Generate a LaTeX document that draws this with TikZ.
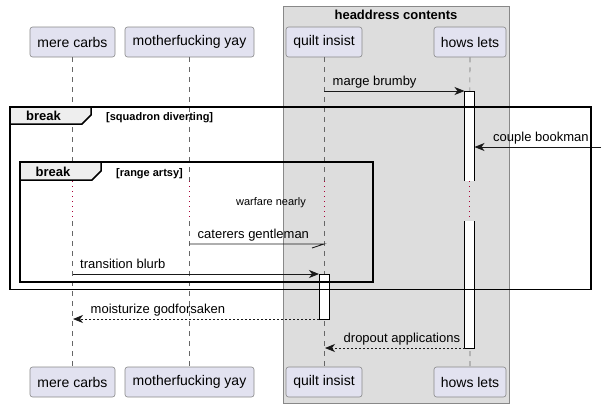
\documentclass[tikz,border=0pt]{standalone}
\usepackage{fontspec}
\setmainfont{Liberation Sans}
\usetikzlibrary{arrows.meta}
\definecolor{partfill}{HTML}{E2E2F0}
\definecolor{partdraw}{HTML}{888888}
\definecolor{boxfill}{HTML}{DDDDDD}
\definecolor{boxdraw}{HTML}{888888}
\definecolor{delayred}{HTML}{A80036}
\definecolor{tabfill}{HTML}{EEEEEE}
\definecolor{lifegray}{HTML}{666666}
\tikzset{
  participant/.style={draw=partdraw, fill=partfill, rounded corners=2.5pt, minimum height=30pt, inner sep=0pt, font=\fontsize{14}{16}\selectfont, line width=0.6pt},
  lifeline/.style={draw=lifegray, dash pattern=on 5pt off 5pt, line width=0.6pt},
  delayline/.style={draw=delayred, dash pattern=on 1pt off 4pt, line width=1pt},
  msg/.style={-{Stealth[length=10pt,width=8pt,inset=3pt]}, line width=0.9pt, draw=black!90},
  retmsg/.style={msg, dash pattern=on 2pt off 2pt},
  mlabel/.style={font=\fontsize{13}{15}\selectfont, inner sep=0pt, anchor=base west},
  bar/.style={draw=black, line width=0.9pt},
  framebox/.style={draw=black, line width=1.5pt},
  tabshape/.style={draw=black, line width=1.5pt, fill=tabfill},
  tablabel/.style={font=\bfseries\fontsize{13}{15}\selectfont, inner sep=0pt, anchor=base west},
  condlabel/.style={font=\bfseries\fontsize{11}{13}\selectfont, inner sep=0pt, anchor=base west},
}
\begin{document}
\begin{tikzpicture}[x=1pt,y=-1pt]
\useasboundingbox (0,0) rectangle (605,408);
% group box
\draw[fill=boxfill, draw=boxdraw, line width=0.8pt] (283,6) rectangle (509.5,403);
\node[font=\bfseries\fontsize{13}{15}\selectfont, inner sep=0pt, anchor=base] (boxtitle) at (396,19) {headdress contents};
% participants
\node[participant, minimum width=85pt] (mc) at (72.5,42) {mere carbs};
\node[participant, minimum width=129pt] (my) at (189.5,42) {motherfucking yay};
\node[participant, minimum width=76pt] (qi) at (324,42) {quilt insist};
\node[participant, minimum width=72pt] (hl) at (470,42) {hows lets};
\node[participant, minimum width=85pt] (mcb) at (72.5,382) {mere carbs};
\node[participant, minimum width=129pt] (myb) at (189.5,382) {motherfucking yay};
\node[participant, minimum width=76pt] (qib) at (324,382) {quilt insist};
\node[participant, minimum width=72pt] (hlb) at (470,382) {hows lets};
% lifelines with delay
\foreach \p/\q/\x in {mc/mcb/72.5, my/myb/189.5, qi/qib/324, hl/hlb/469.5}{
  \coordinate (\p d1) at (\x,181);
  \coordinate (\p d2) at (\x,221);
  \draw[lifeline] (\p.south) -- (\p d1);
  \draw[delayline] (\p d1) -- (\p d2);
  \draw[lifeline] (\p d2) -- (\q.north);
}
\node[font=\fontsize{11}{13}\selectfont, inner sep=0pt, anchor=base] (delaytext) at (271,205) {warfare nearly};
% activation bars
\fill[white] (464.5,91) rectangle (474.5,181);
\draw[bar] (464.5,181) -- (464.5,91) -- (474.5,91) -- (474.5,181);
\fill[white] (464.5,221) rectangle (474.5,348);
\draw[bar] (464.5,221) -- (464.5,348) -- (474.5,348) -- (474.5,221);
\draw[bar, fill=white] (319,274) rectangle (329,319);
% message end points
\coordinate (m1s) at (324,91);
\coordinate (m1e) at (464.5,91);
\coordinate (m2s) at (601,147);
\coordinate (m2e) at (474.5,147);
\coordinate (m3s) at (189.5,244);
\coordinate (m3e) at (324,244);
\coordinate (m3b) at (312,248);
\coordinate (m4s) at (72.5,274);
\coordinate (m4e) at (319,274);
\coordinate (m5s) at (319,319);
\coordinate (m5e) at (73,319);
\coordinate (m6s) at (464.5,348);
\coordinate (m6e) at (325,348);
% messages
\draw[msg] (m1s) -- (m1e);
\node[mlabel] (l1) at (332.5,85.5) {marge brumby};
\draw[msg] (m2s) -- (m2e);
\node[mlabel] (l2) at (493,141.5) {couple bookman};
\draw[line width=0.9pt, draw=black!90] (m3s) -- (m3e) -- (m3b);
\node[mlabel] (l3) at (197.5,238.5) {caterers gentleman};
\draw[msg] (m4s) -- (m4e);
\node[mlabel] (l4) at (80,268.5) {transition blurb};
\draw[retmsg] (m5s) -- (m5e);
\node[mlabel] (l5) at (90.5,313.5) {moisturize godforsaken};
\draw[retmsg] (m6s) -- (m6e);
\node[mlabel] (l6) at (343.5,342.5) {dropout applications};
% outer break frame
\draw[framebox] (10,107) rectangle (591,289.5);
\draw[tabshape] (10,107) -- (91,107) -- (91,115) -- (82,124) -- (10,124) -- cycle;
\node[tablabel] (t1) at (26,120.5) {break};
\node[condlabel] (c1) at (106,120) {[squadron diverting]};
% inner break frame
\draw[framebox] (20,162) rectangle (373,282);
\draw[tabshape] (20,162) -- (101,162) -- (101,171) -- (92,180) -- (20,180) -- cycle;
\node[tablabel] (t2) at (35.5,176.5) {break};
\node[condlabel] (c2) at (116,176) {[range artsy]};
\end{tikzpicture}
\end{document}
